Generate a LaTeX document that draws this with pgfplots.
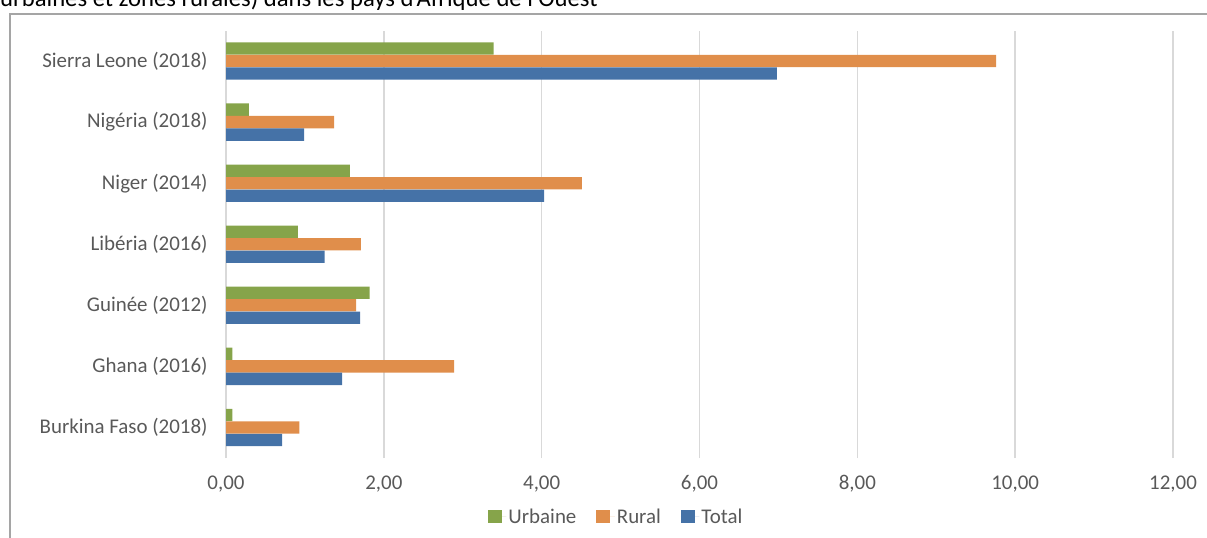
\documentclass[border=0pt]{standalone}
\usepackage{fontspec}
\setmainfont{Carlito}
\usepackage{pgfplots}
\pgfplotsset{compat=1.18}
\definecolor{cgreen}{HTML}{86A44A}
\definecolor{corange}{HTML}{E08E4B}
\definecolor{cblue}{HTML}{4572A7}
\definecolor{gridgray}{HTML}{D9D9D9}
\definecolor{tickgray}{HTML}{595959}
\definecolor{framegray}{HTML}{A5A5A5}
\begin{document}
\begin{tikzpicture}[x=1bp,y=1bp]
\useasboundingbox (0,0) rectangle (1207,-538);
\begin{scope}
\clip (0,0) rectangle (1207,-538);
\draw[color=framegray, line width=2bp] (10,-600) -- (10,-13.7) -- (1250,-13.7);
\node[anchor=base west, inner sep=0, font=\fontsize{24.8}{28}\selectfont] at (0,-6.8) {urbaines et zones rurales) dans les pays d'Afrique de l'Ouest};
\end{scope}
\begin{axis}[
  at={(226bp,-458bp)}, anchor=south west,
  width=947bp, height=427.5bp, scale only axis,
  xbar, bar width=12.3bp,
  xmin=0, xmax=12, ymin=-0.5, ymax=6.5,
  xtick={0,2,4,6,8,10,12}, ytick={0,1,2,3,4,5,6},
  yticklabels={Burkina Faso (2018), Ghana (2016), Guinée (2012), Libéria (2016), Niger (2014), Nigéria (2018), Sierra Leone (2018)},
  xmajorgrids, grid style={draw=gridgray, line width=1.5bp},
  axis line style={draw=none}, major tick length=0,
  tick label style={font=\fontsize{21}{25}\selectfont, text=tickgray},
  yticklabel style={xshift=-15bp},
  xticklabel style={yshift=-14bp, /pgf/number format/.cd, fixed, fixed zerofill, precision=2, use comma, 1000 sep={}, assume math mode=true},
  legend style={at={(axis description cs:0.412,-0.137)}, anchor=center, draw=none, fill=none,
    legend columns=3, font=\fontsize{21}{25}\selectfont, text=tickgray,
    /tikz/every even column/.append style={column sep=18bp}},
  legend image code/.code={\fill[#1, draw=none] (0bp,-6.8bp) rectangle (13.6bp,6.8bp); \path (0bp,0bp) -- (18.5bp,0bp);},
]
\addplot[fill=cgreen, draw=none, bar shift=12.5bp] coordinates {(0.08,0) (0.08,1) (1.82,2) (0.91,3) (1.57,4) (0.29,5) (3.39,6)};
\addlegendentry{Urbaine}
\addplot[fill=corange, draw=none, bar shift=0bp] coordinates {(0.93,0) (2.89,1) (1.65,2) (1.71,3) (4.51,4) (1.37,5) (9.76,6)};
\addlegendentry{Rural}
\addplot[fill=cblue, draw=none, bar shift=-12.5bp] coordinates {(0.71,0) (1.47,1) (1.70,2) (1.25,3) (4.03,4) (0.99,5) (6.98,6)};
\addlegendentry{Total}
\end{axis}
\end{tikzpicture}
\end{document}
